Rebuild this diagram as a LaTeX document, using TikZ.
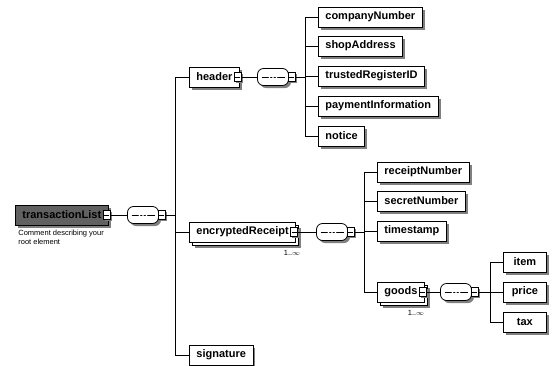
\documentclass[tikz,border=0pt]{standalone}
\usepackage{fontspec}
\setmainfont{Liberation Sans}
\usetikzlibrary{shadows}
\begin{document}
\begin{tikzpicture}[x=1pt,y=-1pt,
  font=\fontsize{11}{13}\selectfont\bfseries,
  line width=0.8pt,
  shade/.style={drop shadow={shadow xshift=2.5pt,shadow yshift=-2.5pt,fill=black!50,opacity=1}},
  smallshade/.style={drop shadow={shadow xshift=1.5pt,shadow yshift=-1.5pt,fill=black!50,opacity=1}},
  elem/.style={draw,fill=white,shade,minimum height=20pt,inner xsep=7pt,inner ysep=0pt,anchor=west},
  multi/.style={draw,fill=white,minimum height=20pt,inner xsep=7pt,inner ysep=0pt,anchor=west,
    drop shadow={shadow xshift=5.5pt,shadow yshift=-5.5pt,fill=black!50,opacity=1},
    copy shadow={shadow xshift=3pt,shadow yshift=-3pt}},
  btn/.style={draw,fill=white,line width=0.7pt,minimum width=7pt,minimum height=9pt,inner sep=0pt,smallshade,
    path picture={\draw[line width=0.6pt] ([xshift=1pt]path picture bounding box.west) -- ([xshift=-1pt]path picture bounding box.east);}},
  seq/.style={rectangle,rounded corners=6pt,
    draw,fill=white,shade,minimum width=31pt,minimum height=17pt,inner sep=0pt,
    path picture={
      \draw[line width=0.7pt,sharp corners] ([xshift=4pt]path picture bounding box.west) -- ([xshift=-4pt]path picture bounding box.east);
      \foreach \dx in {-3.5,0,3.5} \fill[sharp corners] ([xshift=\dx pt]path picture bounding box.center) circle (1.1pt);}},
  occ/.style={font=\fontsize{7.5}{9}\selectfont,inner sep=0pt},
  conn/.style={draw,line width=0.8pt}
]
\useasboundingbox (0,0) rectangle (552,365);

% root element with its comment
\node[elem,fill=black!62] (root) at (15,215) {transactionList\hspace{9pt}};
\node[btn] (rootbtn) at ([xshift=-2pt]root.east) {};
\node[anchor=north west,align=left,inner sep=0pt,font=\fontsize{7.5}{9}\selectfont] (cmt) at (18,230) {Comment describing your\\root element};
\node[seq] (rootseq) at (143,215) {};
\node[btn,anchor=west] (rootseqbtn) at ([xshift=-1pt]rootseq.east) {};
\coordinate (bus1) at (175,215);

% header branch
\node[elem] (hdr) at (189,77) {header\hspace{10pt}};
\node[btn] (hdrbtn) at ([xshift=-2pt]hdr.east) {};
\node[seq] (hdrseq) at (273,77) {};
\node[btn,anchor=west] (hdrseqbtn) at ([xshift=-1pt]hdrseq.east) {};
\coordinate (bus2) at (305,77);
\node[elem] (cn) at (318,17) {companyNumber};
\node[elem] (sa) at (318,46) {shopAddress};
\node[elem] (tr) at (318,76) {trustedRegisterID};
\node[elem] (pi) at (318,106) {paymentInformation};
\node[elem] (no) at (318,136) {notice};

% encryptedReceipt branch
\node[multi] (er) at (189,232) {encryptedReceipt\hspace{10pt}};
\node[btn] (erbtn) at ([xshift=-2pt]er.east) {};
\node[occ] (erocc) at (292,253) {1..$\infty$};
\node[seq] (erseq) at (332,232) {};
\node[btn,anchor=west] (erseqbtn) at ([xshift=-1pt]erseq.east) {};
\coordinate (bus3) at (364,232);
\node[elem] (rn) at (377,172) {receiptNumber};
\node[elem] (sn) at (377,201) {secretNumber};
\node[elem] (ts) at (377,231) {timestamp};

% goods branch
\node[multi] (gd) at (377,292) {goods\hspace{10pt}};
\node[btn] (gdbtn) at ([xshift=-2pt]gd.east) {};
\node[occ] (gdocc) at (416,313) {1..$\infty$};
\node[seq] (gdseq) at (456,292) {};
\node[btn,anchor=west] (gdseqbtn) at ([xshift=-1pt]gdseq.east) {};
\coordinate (bus4) at (490,292);
\node[elem,minimum width=43pt] (it) at (503,262) {item};
\node[elem,minimum width=43pt] (pr) at (503,292) {price};
\node[elem,minimum width=43pt] (tx) at (503,322) {tax};

% signature
\node[elem] (sig) at (189,355) {signature};

% connectors
\begin{scope}[every path/.style={conn}]
\path (rootbtn.east) -- (rootseq.west);
\path (rootseqbtn.east) -- (bus1);
\path (bus1) |- (hdr.west);
\path (bus1) |- (er.west);
\path (bus1) |- (sig.west);

\path (hdrbtn.east) -- (hdrseq.west);
\path (hdrseqbtn.east) -- (bus2);
\foreach \c in {cn,sa,tr,pi,no} \path (bus2) |- (\c.west);

\path (erbtn.east) -- (erseq.west);
\path (erseqbtn.east) -- (bus3);
\foreach \c in {rn,sn,ts,gd} \path (bus3) |- (\c.west);

\path (gdbtn.east) -- (gdseq.west);
\path (gdseqbtn.east) -- (bus4);
\foreach \c in {it,pr,tx} \path (bus4) |- (\c.west);
\end{scope}
\end{tikzpicture}
\end{document}
